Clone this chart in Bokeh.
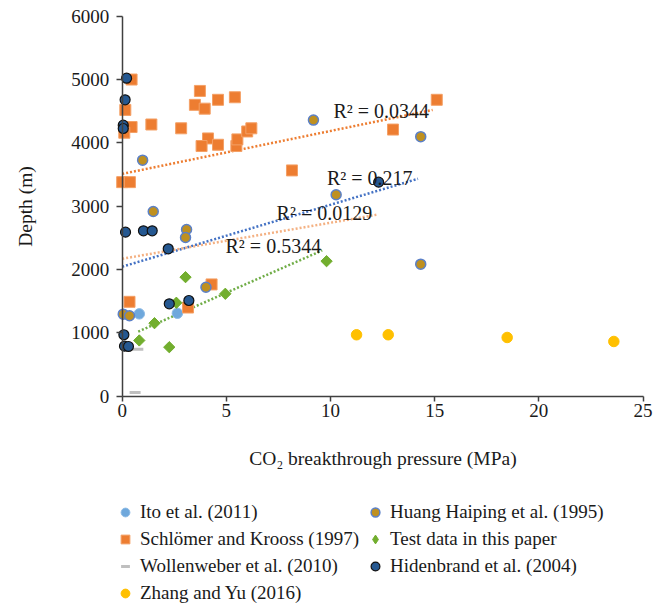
import numpy as np
from bokeh.plotting import figure
from bokeh.models import Range1d, FixedTicker, Legend, LegendItem, Label
from bokeh.embed import file_html
from bokeh.resources import INLINE

# ---------------- data ----------------
ito_x = [0.82, 2.65]
ito_y = [1300, 1310]

sch_x = [0.45, 0.15, 0.45, 0.10, 1.40, 2.83, 3.73, 3.49, 3.96, 4.60, 5.41, 4.12,
         3.81, 4.60, 5.48, 5.53, 6.00, 6.20, 8.15, 0.00, 0.37, 0.35, 4.29, 3.16,
         15.1, 13.0]
sch_y = [5000, 4520, 4250, 4160, 4290, 4230, 4820, 4600, 4540, 4680, 4720, 4070,
         3950, 3970, 3950, 4055, 4180, 4230, 3565, 3380, 3380, 1490, 1765, 1400,
         4680, 4210]

wol_x = [0.75, 0.62]
wol_y = [740, 60]

zhang_x = [11.25, 12.77, 18.48, 23.6]
zhang_y = [970, 970, 927, 864]

huang_x = [0.98, 1.49, 3.09, 3.04, 4.02, 0.05, 0.35, 9.18, 10.27, 14.33, 14.33]
huang_y = [3727, 2917, 2632, 2506, 1721, 1295, 1270, 4360, 3180, 4098, 2085]

test_x = [3.04, 2.60, 4.95, 1.55, 0.82, 2.26, 9.81]
test_y = [1880, 1475, 1617, 1153, 880, 774, 2132]

hid_x = [0.21, 0.14, 0.05, 0.05, 0.16, 1.02, 1.44, 2.21, 2.26, 3.20, 0.08, 0.11, 0.30, 12.31]
hid_y = [5021, 4680, 4280, 4227, 2590, 2611, 2611, 2327, 1459, 1511, 970, 790, 785, 3380]

# linear trendlines (end points)
trend_sch_x = [0.0, 14.9]
trend_sch_y = [3510, 4520]
trend_huang_x = [0.0, 14.2]
trend_huang_y = [2045, 3433]
trend_hid_x = [0.0, 12.2]
trend_hid_y = [2170, 2864]
trend_test_x = [0.77, 9.6]
trend_test_y = [1020, 2301]

r2_labels = ["R\u00b2 = 0.0344", "R\u00b2 = 0.217", "R\u00b2 = 0.0129", "R\u00b2 = 0.5344"]

x_ticks = [0, 5, 10, 15, 20, 25]
y_ticks = [0, 1000, 2000, 3000, 4000, 5000, 6000]

FONT = "Liberation Serif"

# the frame fills the whole page; axes are pinned at x=0 / y=0
p = figure(width=666, height=607, output_backend="svg", toolbar_location=None,
           x_range=Range1d(-5.842, 26.128), y_range=Range1d(-3336.5, 6247.9),
           min_border=0, min_border_left=0, min_border_right=0,
           min_border_top=0, min_border_bottom=0)
p.outline_line_color = None
p.grid.visible = False
p.background_fill_color = "white"
p.border_fill_color = "white"

for axl in (p.xaxis, p.yaxis):
    axl.axis_line_color = "#404040"
    axl.axis_line_width = 1.5
    axl.major_tick_line_color = "#404040"
    axl.major_tick_line_width = 1.5
    axl.minor_tick_line_color = None
    axl.major_tick_in = 0
    axl.major_label_text_font = FONT
    axl.major_label_text_font_size = "19px"
    axl.major_label_text_color = "#1a1a1a"
    axl.axis_label_text_font = FONT
    axl.axis_label_text_font_size = "19.5px"
    axl.axis_label_text_font_style = "normal"
    axl.axis_label_text_color = "#1a1a1a"

p.xaxis.ticker = FixedTicker(ticks=x_ticks)
p.yaxis.ticker = FixedTicker(ticks=y_ticks)
p.xaxis.bounds = (0, 25)
p.yaxis.bounds = (0, 6000)
p.xaxis.fixed_location = 0
p.yaxis.fixed_location = 0
p.xaxis.major_tick_out = 5
p.yaxis.major_tick_out = 6
p.xaxis.major_label_standoff = 3
p.yaxis.major_label_standoff = 7
p.xaxis.axis_label = "CO\u2082 breakthrough pressure (MPa)"
p.yaxis.axis_label = "Depth (m)"
p.xaxis.axis_label_standoff = 27
p.yaxis.axis_label_standoff = 33

# trendlines
dash = "2 2"
p.line(trend_sch_x, trend_sch_y, line_color="#ED7D31", line_width=2.5, line_dash=dash)
p.line(trend_huang_x, trend_huang_y, line_color="#4472C4", line_width=2.5, line_dash=dash)
p.line(trend_hid_x, trend_hid_y, line_color="#F4B183", line_width=2.5, line_dash=dash)
p.line(trend_test_x, trend_test_y, line_color="#70AD47", line_width=2.5, line_dash=dash)

# R^2 labels
label_pos = [(10.14, 4511), (9.83, 3453), (7.41, 2885), (4.96, 2364)]
for txt, (lx, ly) in zip(r2_labels, label_pos):
    p.add_layout(Label(x=lx, y=ly, text=txt, text_font=FONT, text_font_size="20px",
                       text_color="#1a1a1a", text_baseline="middle", text_align="left"))

GREEN = "#72AE2E"
r_ito = p.scatter(ito_x, ito_y, marker="circle", size=10.5, fill_color="#6FA8DC",
                  line_color="#8DBBE6", line_width=1)
r_sch = p.scatter(sch_x, sch_y, marker="square", size=11, fill_color="#ED7D31",
                  line_color="#F4A066", line_width=1)
r_wol = p.scatter(wol_x, wol_y, marker="dash", size=11, line_color="#BFBFBF", line_width=3)
r_zhang = p.scatter(zhang_x, zhang_y, marker="circle", size=10.5, fill_color="#FFC000",
                    line_color="#FFC000", line_width=1)
r_huang = p.scatter(huang_x, huang_y, marker="circle", size=10, fill_color="#BF9020",
                    line_color="#5B80C8", line_width=1.5)
# diamond glyph (used by the legend) under a 45-degree square of equal width/height
r_test = p.scatter(test_x, test_y, marker="diamond", size=10, fill_color=GREEN,
                   line_color=GREEN, line_width=1)
p.scatter(test_x, test_y, marker="square", angle=np.pi / 4, size=8,
          fill_color=GREEN, line_color=GREEN, line_width=1)
r_hid = p.scatter(hid_x, hid_y, marker="circle", size=10, fill_color="#255891",
                  line_color="#111111", line_width=1.2)

items = [
    LegendItem(label="Ito et al. (2011)", renderers=[r_ito]),
    LegendItem(label="Schlömer and Krooss (1997)", renderers=[r_sch]),
    LegendItem(label="Wollenweber et al. (2010)", renderers=[r_wol]),
    LegendItem(label="Zhang and Yu (2016)", renderers=[r_zhang]),
    LegendItem(label="Huang Haiping et al. (1995)", renderers=[r_huang]),
    LegendItem(label="Test data in this paper", renderers=[r_test]),
    LegendItem(label="Hidenbrand et al. (2004)", renderers=[r_hid]),
]
legend = Legend(items=items, orientation="vertical", ncols=2,
                location=(114, 3), border_line_color=None,
                background_fill_alpha=0, padding=0, margin=0,
                glyph_width=22, glyph_height=22, label_height=22, spacing=5,
                label_standoff=4, label_text_font=FONT, label_text_font_size="19px",
                label_text_color="#1a1a1a")
p.add_layout(legend, "center")

open("out.html", "w").write(file_html(p, INLINE))
